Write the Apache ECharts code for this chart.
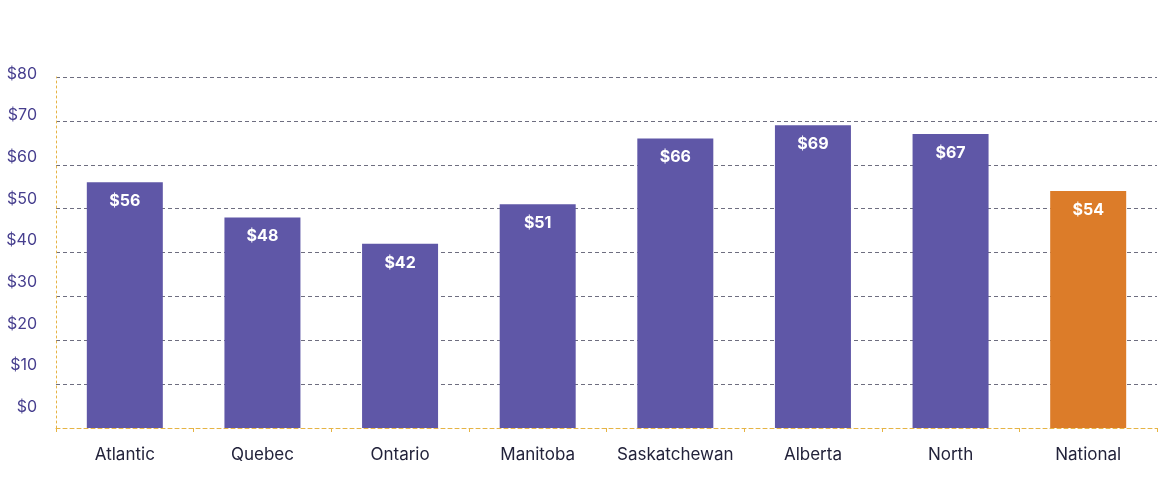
<!DOCTYPE html>
<html>
<head>
<meta charset="utf-8">
<script src="https://cdn.jsdelivr.net/npm/echarts@6/dist/echarts.min.js"></script>
<style>
	html,body{margin:0;padding:0;background:#fff;}
	#chart{width:1170px;height:494px;}
</style>
</head>
<body>
<div id="chart"></div>
<script>
// 地区
var regions = ['Atlantic', 'Quebec', 'Ontario', 'Manitoba', 'Saskatchewan', 'Alberta', 'North', 'National'];
// 金额
var amounts = [56, 48, 42, 51, 66, 69, 67, 54];
// 纵轴刻度
var yTicks = ['$0', '$10', '$20', '$30', '$40', '$50', '$60', '$70', '$80'];

var purple = '#5f57a7';
var orange = '#dc7c29';
var fontName = 'Inter, "Open Sans", sans-serif';

var myChart = echarts.init(document.getElementById('chart'));

var barData = [];
for (var i = 0; i < amounts.length; i++) {
	barData.push({
		value: amounts[i],
		itemStyle: { color: regions[i] == 'National' ? orange : purple }
	});
}

myChart.setOption({
	animation: false,
	grid: [
		{ left: 56, right: 13, top: 77, bottom: 66 },
		// 刻度文字单独一层(原图文字与网格线不对齐)
		{ left: 56, right: 13, top: 74, bottom: 87 }
	],
	xAxis: [{
		gridIndex: 0,
		type: 'category',
		data: regions,
		axisLine: { lineStyle: { color: '#e6b445', type: [4, 3], width: 1 } },
		axisTick: { show: true, length: 4, lineStyle: { color: '#e6b445' } },
		axisLabel: { color: '#22223a', fontSize: 17, fontFamily: fontName, margin: 18, interval: 0 }
	}, {
		gridIndex: 1,
		type: 'category',
		data: regions,
		show: false
	}],
	yAxis: [{
		gridIndex: 0,
		type: 'value',
		min: 0,
		max: 80,
		interval: 10,
		axisLine: { show: true, lineStyle: { color: '#e6b445', type: [2, 3], width: 1 } },
		axisTick: { show: false },
		axisLabel: { show: false },
		splitLine: { lineStyle: { color: '#6e6e80', type: [4, 3], width: 1 } }
	}, {
		gridIndex: 1,
		type: 'category',
		data: yTicks,
		boundaryGap: false,
		axisLine: { show: false },
		axisTick: { show: false },
		splitLine: { show: false },
		axisLabel: {
			color: '#463e8e',
			fontSize: 16,
			fontFamily: fontName,
			margin: 19,
			interval: 0
		}
	}],
	series: [{
		type: 'bar',
		xAxisIndex: 0,
		yAxisIndex: 0,
		data: barData,
		barWidth: 76,
		label: {
			show: true,
			position: 'insideTop',
			distance: 11,
			color: '#fff',
			fontWeight: 'bold',
			fontSize: 16,
			fontFamily: fontName,
			formatter: function (p) { return '$' + p.value; }
		}
	}]
});
</script>
</body>
</html>
